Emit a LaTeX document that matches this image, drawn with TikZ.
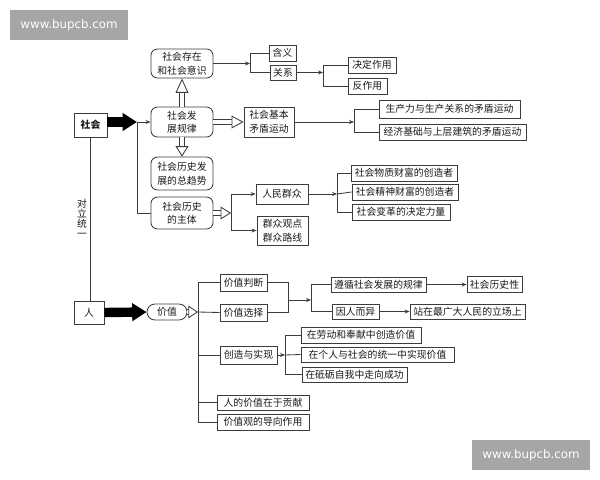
\documentclass[tikz,border=0pt]{standalone}
\usepackage{fontspec}
\setmainfont{Noto Sans CJK SC}
\newfontfamily\markfont{DejaVu Sans}
\usetikzlibrary{arrows.meta, positioning, calc}
\definecolor{inkline}{HTML}{3C3C3C}
\definecolor{inktext}{HTML}{1A1A1A}
\definecolor{markgray}{HTML}{A6A6A6}
\tikzset{
    sz/.style 2 args={minimum width=#1*0.025cm, minimum height=#2*0.025cm},
    boxn/.style={draw=inkline, line width=0.6pt, inner sep=0pt, align=center, text=inktext, font=\fontsize{7pt}{9.6pt}\selectfont},
    roundn/.style={boxn, rounded corners=0.16cm},
    pilln/.style={boxn, rounded corners=0.2cm},
    link/.style={draw=inkline, line width=0.6pt},
    linkto/.style={link, -{Stealth[length=3.5pt, width=2.8pt]}},
    bigarrow/.style={black, line width=0.235cm, -{Triangle[length=0.36cm, width=0.43cm]}},
    hollow/.style={draw=inkline, line width=0.6pt, double=white, double distance=0.12cm, -{Triangle[open, fill=white, length=#1, width=0.32cm]}},
    hollow/.default=0.3cm,
    marktag/.style={fill=markgray, text=white, inner sep=0pt, font=\markfont\fontsize{8.4pt}{10pt}\selectfont}
}
\begin{document}
\begin{tikzpicture}[x=0.025cm, y=-0.025cm]
    \useasboundingbox (0,0) rectangle (600,480);
    \fill[white] (0,0) rectangle (600,480);

    \node[marktag, sz={118}{30}] (marka) at (69,25) {www.bupcb.com};
    \node[marktag, sz={118}{30}] (markb) at (531,455) {www.bupcb.com};

    \node[boxn, sz={33}{24}, font=\fontsize{7pt}{9pt}\selectfont\bfseries] (shehui) at (90.5,125) {社会};
    \node[roundn, sz={62}{29}] (cun) at (182,63.5) {社会存在\\和社会意识};
    \node[roundn, sz={62}{30}] (fazhan) at (182,122) {社会发\\展规律};
    \node[roundn, sz={62}{33}] (qushi) at (182,173.5) {社会历史发\\展的总趋势};
    \node[roundn, sz={62}{32}] (zhuti) at (182,213) {社会历史\\的主体};
    \node[boxn, sz={27}{16}] (hanyi) at (282.5,53) {含义};
    \node[boxn, sz={26}{15}] (guanxi) at (283,72.5) {关系};
    \node[boxn, sz={48}{16}] (jueding) at (372,65) {决定作用};
    \node[boxn, sz={39}{16}] (fan) at (367.5,86) {反作用};
    \node[boxn, sz={50}{30}] (jiben) at (269,122) {社会基本\\矛盾运动};
    \node[boxn, sz={141}{18}] (shengchan) at (449.5,109) {生产力与生产关系的矛盾运动};
    \node[boxn, sz={147}{16}] (jingji) at (452.5,132) {经济基础与上层建筑的矛盾运动};
    \node[boxn, sz={52}{20}] (qunzhong) at (282,194) {人民群众};
    \node[boxn, sz={51}{29}] (luxian) at (282.5,230.5) {群众观点\\群众路线};
    \node[boxn, sz={106}{16}] (wuzhi) at (404,173) {社会物质财富的创造者};
    \node[boxn, sz={106}{16}] (jingshen) at (405,192) {社会精神财富的创造者};
    \node[boxn, sz={98}{16}] (biange) at (401,212) {社会变革的决定力量};

    \node[boxn, sz={30}{23}] (ren) at (89,312.5) {人};
    \node[pilln, sz={40}{16}] (jiazhi) at (167,312) {价值};
    \node[boxn, sz={47}{17}] (panduan) at (243.5,282.5) {价值判断};
    \node[boxn, sz={47}{17}] (xuanze) at (243.5,312.5) {价值选择};
    \node[boxn, sz={57}{18}] (chuangzao) at (248.5,355) {创造与实现};
    \node[boxn, sz={92}{15}] (gongxian) at (263,402.5) {人的价值在于贡献};
    \node[boxn, sz={92}{16}] (daoxiang) at (263,422) {价值观的导向作用};
    \node[boxn, sz={95}{15}] (zunxun) at (378.5,284.5) {遵循社会发展的规律};
    \node[boxn, sz={47}{15}] (yinren) at (355.5,311.5) {因人而异};
    \node[boxn, sz={55}{16}] (lishi) at (494.5,284.5) {社会历史性};
    \node[boxn, sz={115}{15}] (zhanzai) at (467.5,311.5) {站在最广大人民的立场上};
    \node[boxn, sz={120}{16}] (laodong) at (361,335) {在劳动和奉献中创造价值};
    \node[boxn, sz={153}{15}] (geren) at (377.5,354.5) {在个人与社会的统一中实现价值};
    \node[boxn, sz={105}{15}] (dili) at (354.5,374.5) {在砥砺自我中走向成功};

    \node[inner sep=0pt, align=center, text=inktext, font=\fontsize{7pt}{7.1pt}\selectfont] (duili) at (82,218) {对\\立\\统\\一};

    \coordinate (jshehui) at (137,122);
    \coordinate (jcun) at (250,63.5);
    \coordinate (jguanxi) at (323,72.5);
    \coordinate (jjiben) at (354,122);
    \coordinate (jzhuti) at (231,213);
    \coordinate (jqun) at (337,194);
    \coordinate (jjiazhi) at (198,312);
    \coordinate (jpan) at (288,300);
    \coordinate (jzun) at (311,300);
    \coordinate (jchuang) at (285,355);

    \draw[link] (shehui.south) -- (shehui.south |- ren.north);
    \draw[bigarrow] (shehui.east |- jshehui) -- (jshehui);
    \draw[linkto] (jshehui) -- (fazhan.west);
    \draw[link] (jshehui) |- (zhuti.west);
    \draw[bigarrow] (ren.east) -- (jiazhi.west);

    \draw[hollow=0.36cm] (fazhan.north) -- (cun.south);
    \draw[hollow=0.26cm] (fazhan.south) -- (qushi.north);
    \draw[hollow] (fazhan.east) -- (jiben.west);
    \draw[hollow=0.26cm] (zhuti.east) -- (jzhuti);
    \draw[hollow=0.24cm] (jiazhi.east) -- (jjiazhi);

    \draw[linkto] (cun.east) -- (jcun);
    \draw[link] (jcun) |- (hanyi.west);
    \draw[link] (jcun) |- (guanxi.west);
    \draw[linkto] (guanxi.east) -- (jguanxi);
    \draw[link] (jguanxi) |- (jueding.west);
    \draw[link] (jguanxi) |- (fan.west);
    \draw[linkto] (jiben.east) -- (jjiben);
    \draw[link] (jjiben) |- (shengchan.west);
    \draw[link] (jjiben) |- (jingji.west);
    \draw[linkto] (jzhuti) |- (qunzhong.west);
    \draw[linkto] (jzhuti) |- (luxian.west);
    \draw[linkto] (qunzhong.east) -- (jqun);
    \draw[link] (jqun) |- (wuzhi.west);
    \draw[link] (jqun) -- (jingshen.west);
    \draw[link] (jqun) |- (biange.west);

    \draw[link] (jjiazhi) |- (panduan.west);
    \draw[link] (jjiazhi) -- (xuanze.west);
    \draw[link] (jjiazhi) |- (chuangzao.west);
    \draw[link] (jjiazhi) |- (gongxian.west);
    \draw[link] (jjiazhi) |- (daoxiang.west);
    \draw[link] (panduan.east) -| (jpan);
    \draw[link] (xuanze.east) -| (jpan);
    \draw[linkto] (jpan) -- (jzun);
    \draw[link] (jzun) |- (zunxun.west);
    \draw[link] (jzun) |- (yinren.west);
    \draw[linkto] (zunxun.east) -- (lishi.west);
    \draw[linkto] (yinren.east) -- (zhanzai.west);
    \draw[linkto] (chuangzao.east) -- (jchuang);
    \draw[link] (jchuang) |- (laodong.west);
    \draw[link] (jchuang) -- (geren.west);
    \draw[link] (jchuang) |- (dili.west);
\end{tikzpicture}
\end{document}
